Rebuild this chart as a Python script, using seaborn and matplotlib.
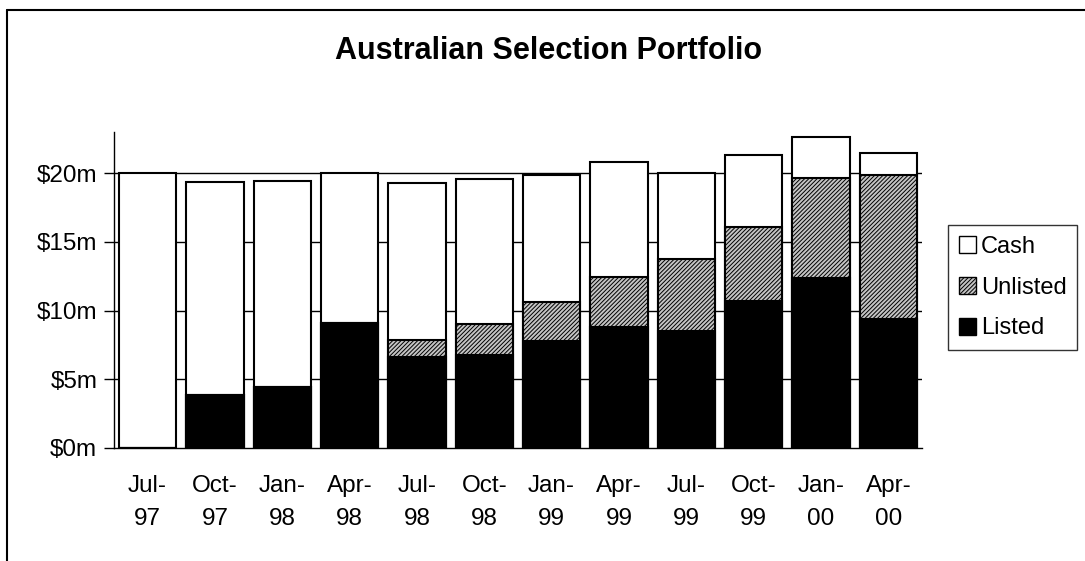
import matplotlib
matplotlib.use('Agg')
import matplotlib.pyplot as plt
import seaborn as sns
import numpy as np
from matplotlib.lines import Line2D
from matplotlib.patches import Patch

# values, in $m
quarters = ['Jul-97', 'Oct-97', 'Jan-98', 'Apr-98', 'Jul-98', 'Oct-98',
            'Jan-99', 'Apr-99', 'Jul-99', 'Oct-99', 'Jan-00', 'Apr-00']
listed = [0.0, 3.84, 4.42, 9.10, 6.61, 6.74, 7.76, 8.80, 8.49, 10.68, 12.34, 9.39]
unlisted = [0.0, 0.0, 0.0, 0.0, 1.27, 2.28, 2.87, 3.61, 5.23, 5.38, 7.32, 10.46]
cash = [20.0, 15.55, 14.98, 10.90, 11.39, 10.54, 9.22, 8.44, 6.28, 5.28, 3.00, 1.65]
yticks = [0, 5, 10, 15, 20]
ytick_labels = ['$0m', '$5m', '$10m', '$15m', '$20m']

sns.set_theme(style='white')
plt.rcParams['font.family'] = ['Liberation Sans', 'DejaVu Sans']
plt.rcParams['hatch.linewidth'] = 0.7
plt.rcParams['text.color'] = 'black'
plt.rcParams['xtick.color'] = 'black'
plt.rcParams['ytick.color'] = 'black'

fig = plt.figure(figsize=(10.85, 5.61), dpi=100)
ax = fig.add_axes([114/1085, 1-448/561, (922-114)/1085, (448-132)/561])

# stacked bars drawn back to front: total, listed+unlisted, listed
top_all = np.array(listed) + np.array(unlisted) + np.array(cash)
top_mid = np.array(listed) + np.array(unlisted)
labels = [q.replace('-', '-\n') for q in quarters]

sns.barplot(x=labels, y=top_all, color='white', saturation=1, width=0.85,
            edgecolor='black', linewidth=1.5, ax=ax, zorder=3)
sns.barplot(x=labels, y=top_mid, color='#c4c4c4', saturation=1, width=0.85,
            edgecolor='black', linewidth=1.5, hatch='////////', ax=ax, zorder=3)
sns.barplot(x=labels, y=listed, color='black', saturation=1, width=0.85,
            edgecolor='black', linewidth=1.5, ax=ax, zorder=3)

ax.set_xlim(-0.5, 11.5)
ax.set_ylim(0, 23)
ax.set_yticks(yticks)
ax.set_yticklabels(ytick_labels)
ax.set_xlabel('')
ax.set_ylabel('')
for y in yticks[1:]:
    ax.axhline(y, color='black', linewidth=1, zorder=1)

for s in ['top', 'right']:
    ax.spines[s].set_visible(False)
ax.spines['left'].set_color('black')
ax.spines['bottom'].set_color('black')
ax.spines['left'].set_linewidth(1)
ax.spines['bottom'].set_linewidth(1)
ax.tick_params(axis='y', left=True, length=7, width=1, color='black',
               labelsize=17.5, labelcolor='black', pad=5)
ax.tick_params(axis='x', bottom=False, length=0, labelsize=17.5,
               labelcolor='black', pad=39)
for t in ax.get_xticklabels():
    t.set_linespacing(1.65)
    t.set_verticalalignment('center')

fig.text(0.506, 1-51/561, 'Australian Selection Portfolio', ha='center',
         va='center', fontsize=22, fontweight='bold', color='black')

handles = [Patch(facecolor='white', edgecolor='black', label='Cash'),
           Patch(facecolor='#c4c4c4', edgecolor='black', hatch='////////', label='Unlisted'),
           Patch(facecolor='black', edgecolor='black', label='Listed')]
leg = fig.legend(handles=handles, loc='upper left',
                 bbox_to_anchor=(948/1085, 1-225/561), fontsize=17,
                 frameon=True, fancybox=False, handlelength=0.75,
                 handleheight=0.75, handletextpad=0.2, labelspacing=0.8,
                 borderpad=0.45, borderaxespad=0)
leg.get_frame().set_edgecolor('black')
leg.get_frame().set_linewidth(1)
for t in leg.get_texts():
    t.set_color('black')

# chart area border (cut off at right and bottom)
fig.add_artist(Line2D([7/1085, 7/1085], [0, 1-10/561], color='black',
                      linewidth=1.5, transform=fig.transFigure))
fig.add_artist(Line2D([7/1085, 1], [1-10/561, 1-10/561], color='black',
                      linewidth=1.5, transform=fig.transFigure))

fig.savefig('out.png', dpi=100)
